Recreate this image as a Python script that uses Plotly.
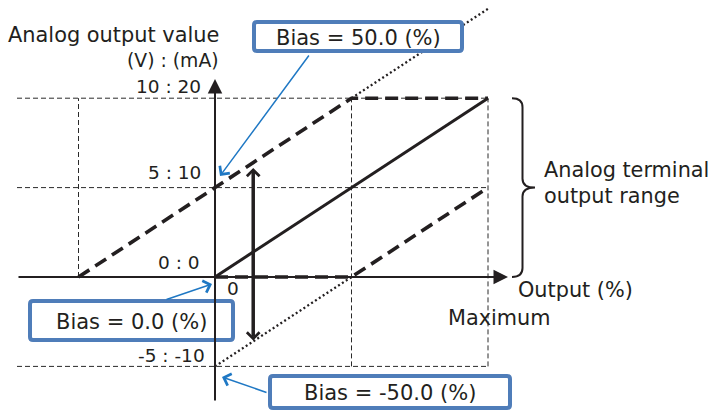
import plotly.graph_objects as go

# ---- data: output (%) against analog output value (V) ----
bias0_x = [0, 100]
bias0_y = [0, 10]
bias_pos_x = [-50, 50, 100]      # Bias = 50.0 %
bias_pos_y = [0, 10, 10]
bias_neg_x = [0, 50, 100]        # Bias = -50.0 %
bias_neg_y = [0, 0, 5]
over_x = [50, 100]               # +50 % characteristic beyond the upper limit
over_y = [10, 15]
under_x = [0, 50]                # -50 % characteristic below the lower limit
under_y = [-5, 0]

tick_vals = [10, 5, 0, -5]
tick_text = ["10 : 20", "5 : 10", "0 : 0", "-5 : -10"]
guide_h_vals = [10, 5, -5]
guide_v_vals = [-50, 50, 100]
guide_v_low = [0, -5, -5]
guide_v_high = [10, 10, 10]

bias_labels = ["Bias = 50.0 (%)", "Bias = 0.0 (%)", "Bias = -50.0 (%)"]
bias_targets = [5, 0, -5]        # value at 0 % output for each bias
range_low, range_high = 0, 10    # analog terminal output range (V)
span_x = 14                      # output where the bias span is shown
span_top, span_bottom = 6.1, -3.64

# ---- canvas / scale ----
W, H = 711, 412
X0, XS = 215, 2.73               # pixel of 0 %, pixels per %
Y0, YS = 277, 17.88              # pixel of 0 V, pixels per V
x_range = [-X0 / XS, (W - X0) / XS]
y_range = [(Y0 - H) / YS, Y0 / YS]
guide_start = (17 - X0) / XS
axis_x_end = (508 - X0) / XS
axis_y_top = (Y0 - 79) / YS
axis_y_bottom = (Y0 - 402) / YS


def px(x):
    return x / W


def py(y):
    return 1 - y / H


INK = "#231f20"
GUIDE = "#2a2a2a"
BOX = "#4f7db9"
BLUE = "#1f78c4"
FONT = "DejaVu Sans"

fig = go.Figure()


def line(x, y, width, dash="solid", color=INK):
    fig.add_trace(go.Scatter(x=x, y=y, mode="lines", hoverinfo="skip",
                             line=dict(color=color, width=width, dash=dash)))


# thin dashed guides
for v in guide_h_vals:
    line([guide_start, 100], [v, v], 1, "5px,3px", GUIDE)
for xv, lo, hi in zip(guide_v_vals, guide_v_low, guide_v_high):
    line([xv, xv], [lo, hi], 1, "5px,3px", GUIDE)

# characteristics
line(over_x, over_y, 2.3, "2px,2.6px")
line(under_x, under_y, 2.3, "2px,2.6px")
line(bias_pos_x, bias_pos_y, 3.6, "13px,7px")
line(bias_neg_x, bias_neg_y, 3.6, "13px,7px")
line(bias0_x, bias0_y, 3)

annotations = []

# axes with arrowheads
annotations.append(dict(x=0, y=axis_y_top, ax=0, ay=axis_y_bottom, xref="x", yref="y",
                        axref="x", ayref="y", text="", showarrow=True, arrowhead=2,
                        arrowsize=1.45, arrowwidth=2, arrowcolor=INK, standoff=0,
                        font=dict(size=1)))
annotations.append(dict(x=axis_x_end, y=0, ax=guide_start, ay=0, xref="x", yref="y",
                        axref="x", ayref="y", text="", showarrow=True, arrowhead=2,
                        arrowsize=1.45, arrowwidth=2, arrowcolor=INK, standoff=0,
                        font=dict(size=1)))

# bias span double arrow
annotations.append(dict(x=span_x, y=span_top, ax=span_x, ay=span_bottom, xref="x", yref="y",
                        axref="x", ayref="y", text="", showarrow=True, arrowside="end+start",
                        arrowhead=4, startarrowhead=4, arrowsize=0.7, startarrowsize=0.7,
                        arrowwidth=3.5, arrowcolor=INK, standoff=0, startstandoff=0,
                        font=dict(size=1)))

# tick labels
tick_dx = [-12, -12, -13, -8]
tick_dy = [11.8, 15.6, 15, 11.4]
for v, t, dx, dy in zip(tick_vals, tick_text, tick_dx, tick_dy):
    annotations.append(dict(x=0, y=v, xref="x", yref="y", text=t, showarrow=False,
                            xanchor="right", yanchor="middle", xshift=dx, yshift=dy,
                            font=dict(family=FONT, size=18.5, color=INK)))

# free text
texts = [
    ("Analog output value", 221, 35, "right", 20.9),
    ("(V) : (mA)", 221, 60.5, "right", 18.8),
    ("0", 232.5, 288.5, "center", 18.5),
    ("Output (%)", 516, 289.5, "left", 20.8),
    ("Maximum", 446, 317.5, "left", 20.8),
    ("Analog terminal", 542, 169.5, "left", 20.8),
    ("output range", 542, 196.5, "left", 20.8),
]
for t, x, y, anchor, size in texts:
    annotations.append(dict(x=px(x), y=py(y), xref="paper", yref="paper", text=t,
                            showarrow=False, xanchor=anchor, yanchor="middle",
                            font=dict(family=FONT, size=size, color=INK)))


def rounded_rect(x0, y0, x1, y1, r=3):
    """Rounded rectangle path in paper units from pixel corners."""
    pts = [
        f"M {px(x0 + r)},{py(y0)}",
        f"L {px(x1 - r)},{py(y0)}", f"Q {px(x1)},{py(y0)} {px(x1)},{py(y0 + r)}",
        f"L {px(x1)},{py(y1 - r)}", f"Q {px(x1)},{py(y1)} {px(x1 - r)},{py(y1)}",
        f"L {px(x0 + r)},{py(y1)}", f"Q {px(x0)},{py(y1)} {px(x0)},{py(y1 - r)}",
        f"L {px(x0)},{py(y0 + r)}", f"Q {px(x0)},{py(y0)} {px(x0 + r)},{py(y0)} Z",
    ]
    return " ".join(pts)


# bias boxes
boxes = [(252, 20, 464, 53), (28, 299, 235, 342), (268, 374, 512, 410)]
shapes = []
for (x0, y0, x1, y1), label in zip(boxes, bias_labels):
    shapes.append(dict(type="path", xref="paper", yref="paper",
                       path=rounded_rect(x0 + 2, y0 + 2, x1 - 2, y1 - 2),
                       line=dict(color=BOX, width=4), fillcolor="white", layer="above"))
    annotations.append(dict(x=px((x0 + x1) / 2), y=py((y0 + y1) / 2 + 1), xref="paper",
                            yref="paper", text=label, showarrow=False, xanchor="center",
                            yanchor="middle", font=dict(family=FONT, size=21, color=INK)))

# blue pointers from the boxes to the 0 % intercepts
ptr_shift = [(5, 11.6), (-3, -7), (7, -10.6)]
ptr_tail = [(90, -122), (-47, 16), (46, 16)]
for v, (sx, sy), (tx, ty) in zip(bias_targets, ptr_shift, ptr_tail):
    annotations.append(dict(x=0, y=v, xref="x", yref="y", xshift=sx, yshift=sy,
                            ax=tx, ay=ty, text="", showarrow=True, arrowhead=4,
                            arrowsize=1.6, arrowwidth=1.5, arrowcolor=BLUE, standoff=0,
                            font=dict(size=1)))

# curly brace marking the terminal output range
bx = (522.5 - X0) / XS
hook = (512 - X0) / XS
tip = (535 - X0) / XS
mid = (range_low + range_high) / 2
r = 0.5
brace = (f"M {hook},{range_high} Q {bx},{range_high} {bx},{range_high - r} "
         f"L {bx},{mid + r} Q {bx},{mid} {tip},{mid} Q {bx},{mid} {bx},{mid - r} "
         f"L {bx},{range_low + r} Q {bx},{range_low} {hook},{range_low}")
shapes.append(dict(type="path", xref="x", yref="y", path=brace,
                   line=dict(color=INK, width=2)))

fig.update_layout(
    width=W, height=H, autosize=False,
    margin=dict(l=0, r=0, t=0, b=0, pad=0),
    paper_bgcolor="white", plot_bgcolor="white",
    showlegend=False,
    xaxis=dict(range=x_range, visible=False, fixedrange=True),
    yaxis=dict(range=y_range, visible=False, fixedrange=True),
    annotations=annotations,
    shapes=shapes,
)

fig.write_html("out.html", config=dict(displayModeBar=False))
